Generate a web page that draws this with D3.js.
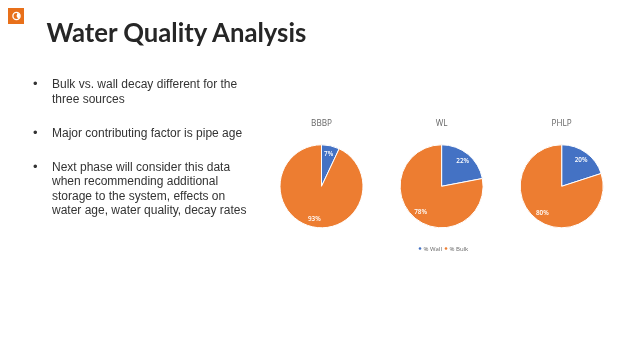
<!DOCTYPE html>
<html><head><meta charset="utf-8">
<script src="https://cdn.jsdelivr.net/npm/d3@7"></script>
<style>html,body{margin:0;padding:0;background:#fff;overflow:hidden}svg{display:block;filter:blur(0.35px)}</style>
</head><body><svg id="c" width="640" height="360"></svg>
<script>
const slideTitle = "Water Quality Analysis";
const bulletLines = [
  ["Bulk vs. wall decay different for the", "three sources"],
  ["Major contributing factor is pipe age"],
  ["Next phase will consider this data", "when recommending additional", "storage to the system, effects on", "water age, water quality, decay rates"]
];
const sources = ["BBBP", "WL", "PHLP"];
const wallPct = [7, 22, 20];
const bulkPct = [93, 78, 80];
const seriesNames = ["% Wall", "% Bulk"];
const seriesColors = ["#4472c4", "#ed7d31"];

const svg = d3.select("#c");
const font = "Liberation Sans, Arial, sans-serif";

// logo
const logo = svg.append("g");
logo.append("rect").attr("x", 8).attr("y", 8).attr("width", 16).attr("height", 16).attr("fill", "#e8701a");
logo.append("circle").attr("cx", 16.5).attr("cy", 16).attr("r", 3.6).attr("fill", "none").attr("stroke", "#fff").attr("stroke-width", 1.3);
logo.append("path").attr("d", d3.arc()({innerRadius: 0, outerRadius: 3.4, startAngle: 0.3, endAngle: 2.6})).attr("transform", "translate(16.5,16)").attr("fill", "#fff");

svg.append("text").attr("x", 46.5).attr("y", 41.5).text(slideTitle)
  .attr("font-family", "Lato, sans-serif").attr("font-weight", 700).attr("font-size", 25.7).attr("fill", "#262626");

// bullets
const lineH = 14.5;
const blockY = [88, 137, 170.5];
bulletLines.forEach((lines, i) => {
  svg.append("text").attr("x", 33).attr("y", blockY[i]).text("•")
    .attr("font-family", font).attr("font-size", 13).attr("fill", "#333");
  lines.forEach((l, j) => {
    svg.append("text").attr("x", 52).attr("y", blockY[i] + j * lineH).text(l)
      .attr("font-family", font).attr("font-size", 12).attr("fill", "#333");
  });
});

// pies
const cx = d3.scalePoint().domain(sources).range([321.5, 561.7]);
const cy = 186.3, R = 41.5, labelR = 33;
const pie = d3.pie().sort(null).value(d => d);
const arc = d3.arc().innerRadius(0).outerRadius(R);
const labelArc = d3.arc().innerRadius(labelR).outerRadius(labelR);
const color = d3.scaleOrdinal().domain([0, 1]).range(seriesColors);

sources.forEach((s, i) => {
  const g = svg.append("g").attr("transform", `translate(${cx(s)},${cy})`);
  const arcs = pie([wallPct[i], bulkPct[i]]);
  g.selectAll("path").data(arcs).join("path")
    .attr("d", arc).attr("fill", (d, k) => color(k))
    .attr("stroke", "#fff").attr("stroke-width", 1);
  g.selectAll("text.l").data(arcs).join("text").attr("class", "l")
    .attr("transform", d => `translate(${labelArc.centroid(d)})`)
    .attr("text-anchor", "middle").attr("dy", "0.35em")
    .attr("font-family", "Open Sans, sans-serif").attr("font-weight", 600).attr("font-size", 6.4).attr("fill", "#fff")
    .text(d => d.value + "%");
  svg.append("text").attr("x", cx(s)).attr("y", 126).attr("text-anchor", "middle")
    .attr("font-family", "Open Sans, sans-serif").attr("font-size", 8.2).attr("fill", "#666").text(s);
});

// legend
const legendX = [420, 446];
seriesNames.forEach((n, i) => {
  svg.append("circle").attr("cx", legendX[i]).attr("cy", 248.5).attr("r", 1.3).attr("fill", seriesColors[i]);
  svg.append("text").attr("x", legendX[i] + 3.5).attr("y", 250.5).text(n)
    .attr("font-family", "Open Sans, sans-serif").attr("font-size", 6).attr("fill", "#666");
});
</script></body></html>
